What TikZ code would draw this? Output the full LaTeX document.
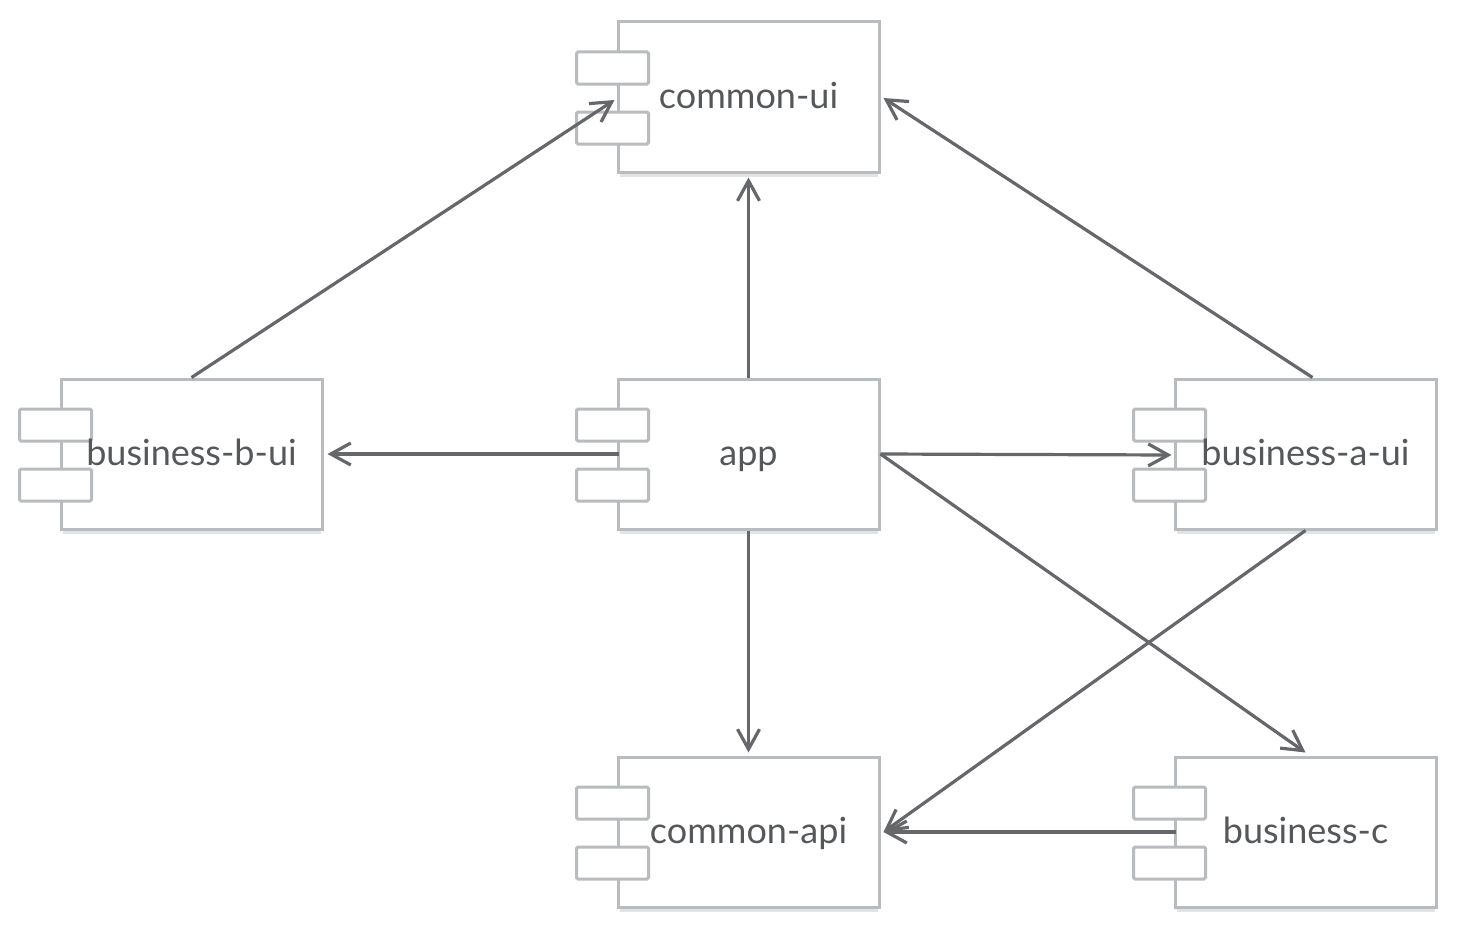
\documentclass[tikz,border=0pt]{standalone}
\usepackage{fontspec}
\setmainfont{Lato}
\usetikzlibrary{arrows.meta,calc}
\definecolor{boxline}{HTML}{B8BCBE}
\definecolor{shadowc}{HTML}{E2E3E4}
\definecolor{arrowc}{HTML}{65676A}
\definecolor{textc}{HTML}{55585A}
\tikzset{
  compbody/.style={draw=boxline, line width=3pt, fill=white, minimum width=261pt, minimum height=150pt, inner sep=0pt},
  comptab/.style={draw=boxline, line width=3pt, fill=white, minimum width=72pt, minimum height=32pt, inner sep=0pt, rounded corners=1.5pt},
  complabel/.style={text=textc, font=\fontsize{36}{42}\selectfont, inner sep=0pt, anchor=base},
  dep/.style={draw=arrowc, line width=3.2pt, -{Straight Barb[length=20pt,width=22pt,line width=3.2pt]}},
}
\newcommand{\component}[3]{%
  \draw[shadowc, line width=3pt] ($(#2)+(-129,78)$) -- ($(#2)+(129,78)$);
  \node[compbody] (#1) at (#2) {};
  \node[comptab] (#1-t1) at ($(#1.west)+(-4,-29)$) {};
  \node[comptab] (#1-t2) at ($(#1.west)+(-4,31)$) {};
  \node[complabel] (#1-label) at ($(#1.center)+(0,11)$) {#3};
}
\begin{document}
\begin{tikzpicture}[x=1pt,y=-1pt]
\useasboundingbox (0,0) rectangle (1458,934);
\component{cu}{748.5,97}{common-ui}
\component{bbui}{191.5,454}{business-b-ui}
\component{app}{748.5,454}{app}
\component{buai}{1305.5,454}{business-a-ui}
\component{capi}{748.5,832}{common-api}
\component{bc}{1305.5,832}{business-c}
\draw[dep] (bbui.north) -- ($(cu.west)+(-2,3)$);
\draw[dep] (app.north) -- ($(cu.south)+(0,4)$);
\draw[dep] ($(buai.north)+(7,0)$) -- ($(cu.east)+(3,1)$);
\draw[dep] ($(app.west)+(2,0)$) -- ($(bbui.east)+(4,0)$);
\draw[dep] (app.east) -- ($(buai.west)+(-2,1)$);
\draw[dep] (app.east) -- ($(bc.north)+(0,-3)$);
\draw[dep] (buai.south) -- ($(capi.east)+(3,0)$);
\draw[dep] (app.south) -- ($(capi.north)+(0,-3)$);
\draw[dep] ($(bc.west)+(2,0)$) -- ($(capi.east)+(3,0)$);
\end{tikzpicture}
\end{document}
